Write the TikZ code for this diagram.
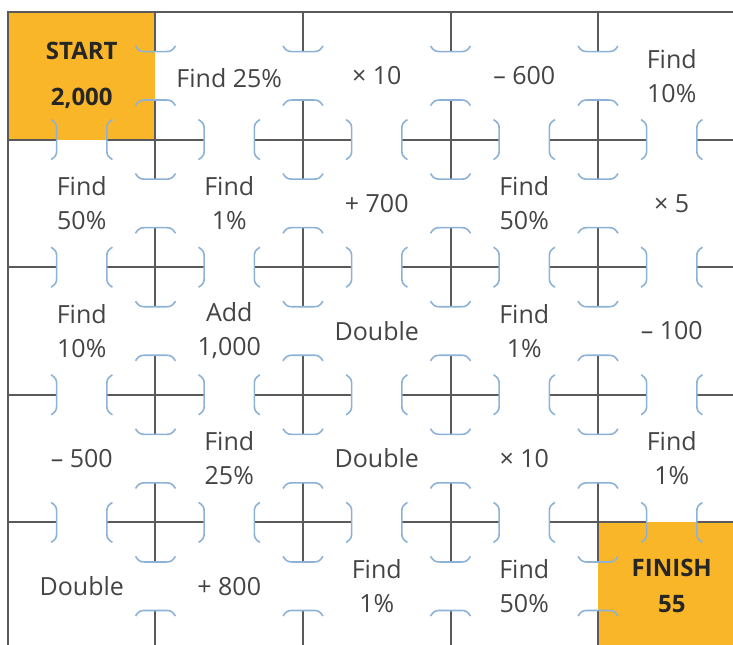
\documentclass[tikz,border=0pt]{standalone}
\usepackage{fontspec}
\setmainfont{Open Sans}
\usepackage{xcolor}
\usepackage{tikz}

\definecolor{wallgray}{HTML}{5A5A5A}
\definecolor{capblue}{HTML}{8DB2D6}
\definecolor{goal}{HTML}{F9B628}
\definecolor{txt}{HTML}{444444}

\begin{document}
\begin{tikzpicture}[x=73.75pt, y=-63.8pt,
  wall/.style={draw=wallgray, line width=1pt},
  capline/.style={draw=capblue, line width=0.8pt},
  doorcap/.pic={\path[capline] (-10pt,2.8pt) .. controls (-8.6pt,0.6pt) and (-7.6pt,0pt) .. (-5.5pt,0pt) -- (5.5pt,0pt) .. controls (7.6pt,0pt) and (8.6pt,0.6pt) .. (10pt,2.8pt);},
  cell/.style={text=txt, align=center, font=\fontsize{12.5}{17}\selectfont},
  goalcell/.style={cell, text=black!85, font=\bfseries\fontsize{12}{17}\selectfont}]
  \useasboundingbox (-0.0542,-0.0940) rectangle (4.9153,4.9530);
  \clip (-0.0542,-0.0940) rectangle (4.9153,4.9530);
  % start and finish squares
  \fill[goal] (0,0) rectangle (1,1);
  \fill[goal] (4,4) rectangle (5,5);
  % outer frame
  \draw[wall] (5.2,0) -- (0,0) -- (0,5.2);
  % vertical walls with doorways
  \foreach \i in {1,...,4}
    \foreach \j in {0,...,4} {
      \draw[wall] (\i,\j) -- (\i,\j+0.31);
      \draw[wall] (\i,\j+0.69) -- (\i,\j+1);
      \pic at (\i,\j+0.31) {doorcap};
      \pic[rotate=180] at (\i,\j+0.69) {doorcap};
    }
  % horizontal walls with doorways
  \foreach \j in {1,...,4}
    \foreach \i in {0,...,4} {
      \draw[wall] (\i,\j) -- (\i+0.33,\j);
      \draw[wall] (\i+0.67,\j) -- (\i+1,\j);
      \pic[rotate=90] at (\i+0.33,\j) {doorcap};
      \pic[rotate=-90] at (\i+0.67,\j) {doorcap};
    }
  % row 1
  \node[goalcell] (start) at (0.5,0.5) {START\\[6pt]2,000};
  \node[cell] (r1c2) at (1.5,0.52) {Find 25\%};
  \node[cell] (r1c3) at (2.5,0.5) {× 10};
  \node[cell] (r1c4) at (3.5,0.5) {– 600};
  \node[cell] (r1c5) at (4.5,0.5) {Find\\10\%};
  % row 2
  \node[cell] (r2c1) at (0.5,1.5) {Find\\50\%};
  \node[cell] (r2c2) at (1.5,1.5) {Find\\1\%};
  \node[cell] (r2c3) at (2.5,1.5) {+ 700};
  \node[cell] (r2c4) at (3.5,1.5) {Find\\50\%};
  \node[cell] (r2c5) at (4.5,1.5) {× 5};
  % row 3
  \node[cell] (r3c1) at (0.5,2.5) {Find\\10\%};
  \node[cell] (r3c2) at (1.5,2.5) {Add\\1,000};
  \node[cell] (r3c3) at (2.5,2.5) {Double};
  \node[cell] (r3c4) at (3.5,2.5) {Find\\1\%};
  \node[cell] (r3c5) at (4.5,2.5) {– 100};
  % row 4
  \node[cell] (r4c1) at (0.5,3.5) {– 500};
  \node[cell] (r4c2) at (1.5,3.5) {Find\\25\%};
  \node[cell] (r4c3) at (2.5,3.5) {Double};
  \node[cell] (r4c4) at (3.5,3.5) {× 10};
  \node[cell] (r4c5) at (4.5,3.5) {Find\\1\%};
  % row 5
  \node[cell] (r5c1) at (0.5,4.5) {Double};
  \node[cell] (r5c2) at (1.5,4.5) {+ 800};
  \node[cell] (r5c3) at (2.5,4.5) {Find\\1\%};
  \node[cell] (r5c4) at (3.5,4.5) {Find\\50\%};
  \node[goalcell] (finish) at (4.5,4.5) {FINISH\\[1pt]55};
\end{tikzpicture}
\end{document}
